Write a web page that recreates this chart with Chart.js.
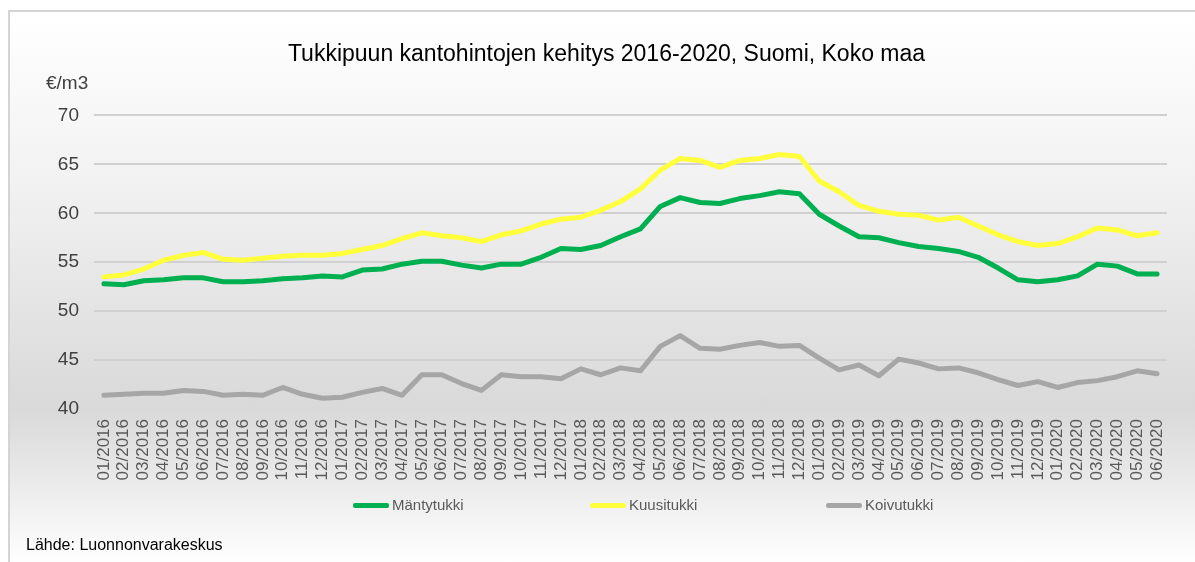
<!DOCTYPE html>
<html>
<head>
<meta charset="utf-8">
<script src="https://cdn.jsdelivr.net/npm/chart.js@4/dist/chart.umd.min.js"></script>
<style>
    body { margin: 0; background: #ffffff; width: 1195px; height: 562px; overflow: hidden; }
    #frame {
        position: absolute; left: 8px; top: 10px; width: 1187px; height: 552px;
        border-left: 2px solid #d4d4d4; border-top: 2px solid #d4d4d4;
        background: linear-gradient(to bottom, #ffffff 0%, #f2f2f2 30%, #d9d9d9 72%, #e6e6e6 82%, #ffffff 100%);
    }
    #myChart { position: absolute; left: 0; top: 0; }
    #legend { position: absolute; left: 0; top: 483px; width: 1187px; height: 20px; }
    .item { position: absolute; top: 0; height: 20px; font: 15px "Liberation Sans", Arial, sans-serif; color: #595959; line-height: 20px; white-space: nowrap; }
    .item span.line { display: inline-block; width: 36px; height: 5px; border-radius: 2px; vertical-align: middle; margin-right: 3px; position: relative; top: -1px; }
    #source { position: absolute; left: 16px; top: 524px; font: 16px "Liberation Sans", Arial, sans-serif; color: #000000; }
</style>
</head>
<body>
<div id="frame">
    <canvas id="myChart" width="1187" height="552"></canvas>
    <div id="legend"></div>
    <div id="source">Lähde: Luonnonvarakeskus</div>
</div>
<script>
const months = [
    '01/2016', '02/2016', '03/2016', '04/2016', '05/2016', '06/2016', '07/2016', '08/2016', '09/2016', '10/2016', '11/2016', '12/2016',
    '01/2017', '02/2017', '03/2017', '04/2017', '05/2017', '06/2017', '07/2017', '08/2017', '09/2017', '10/2017', '11/2017', '12/2017',
    '01/2018', '02/2018', '03/2018', '04/2018', '05/2018', '06/2018', '07/2018', '08/2018', '09/2018', '10/2018', '11/2018', '12/2018',
    '01/2019', '02/2019', '03/2019', '04/2019', '05/2019', '06/2019', '07/2019', '08/2019', '09/2019', '10/2019', '11/2019', '12/2019',
    '01/2020', '02/2020', '03/2020', '04/2020', '05/2020', '06/2020'
];

const mantytukki = [
    52.8, 52.7, 53.1, 53.2, 53.4, 53.4, 53.0, 53.0, 53.1, 53.3, 53.4, 53.6,
    53.5, 54.2, 54.3, 54.8, 55.1, 55.1, 54.7, 54.4, 54.8, 54.8, 55.5, 56.4,
    56.3, 56.7, 57.6, 58.4, 60.7, 61.6, 61.1, 61.0, 61.5, 61.8, 62.2, 62.0,
    59.9, 58.7, 57.6, 57.5, 57.0, 56.6, 56.4, 56.1, 55.5, 54.4, 53.2, 53.0,
    53.2, 53.6, 54.8, 54.6, 53.8, 53.8
];

const kuusitukki = [
    53.5, 53.7, 54.3, 55.2, 55.7, 56.0, 55.3, 55.2, 55.4, 55.6, 55.7, 55.7,
    55.9, 56.3, 56.7, 57.4, 58.0, 57.7, 57.5, 57.1, 57.8, 58.2, 58.9, 59.4,
    59.6, 60.3, 61.2, 62.5, 64.4, 65.6, 65.4, 64.7, 65.4, 65.6, 66.0, 65.8,
    63.3, 62.2, 60.8, 60.2, 59.9, 59.8, 59.3, 59.6, 58.7, 57.8, 57.1, 56.7,
    56.9, 57.6, 58.5, 58.3, 57.7, 58.0
];

const koivutukki = [
    41.4, 41.5, 41.6, 41.6, 41.9, 41.8, 41.4, 41.5, 41.4, 42.2, 41.5, 41.1,
    41.2, 41.7, 42.1, 41.4, 43.5, 43.5, 42.6, 41.9, 43.5, 43.3, 43.3, 43.1,
    44.1, 43.5, 44.2, 43.9, 46.4, 47.5, 46.2, 46.1, 46.5, 46.8, 46.4, 46.5,
    45.2, 44.0, 44.5, 43.4, 45.1, 44.7, 44.1, 44.2, 43.7, 43.0, 42.4, 42.8,
    42.2, 42.7, 42.9, 43.3, 43.9, 43.6
];

const seriesNames = ['Mäntytukki', 'Kuusitukki', 'Koivutukki'];
const seriesColors = ['#00b050', '#ffff3c', '#a6a6a6'];
const yTicks = [40, 45, 50, 55, 60, 65, 70];

const ctx = document.getElementById('myChart').getContext('2d');

function makeDataset(i, values) {
    return {
        label: seriesNames[i],
        data: values,
        borderColor: seriesColors[i],
        backgroundColor: seriesColors[i],
        borderWidth: 5,
        pointRadius: 0,
        tension: 0,
        borderJoinStyle: 'round',
        borderCapStyle: 'round',
        fill: false
    };
}

const myChart = new Chart(ctx, {
    type: 'line',
    data: {
        labels: months,
        datasets: [
            makeDataset(2, koivutukki),
            makeDataset(1, kuusitukki),
            makeDataset(0, mantytukki)
        ]
    },
    options: {
        responsive: false,
        animation: false,
        layout: { padding: { left: 36, right: 30, top: 0, bottom: 62 } },
        plugins: {
            legend: { display: false },
            tooltip: { enabled: false },
            title: {
                display: true,
                text: 'Tukkipuun kantohintojen kehitys 2016-2020, Suomi, Koko maa',
                color: '#000000',
                font: { family: '"Liberation Sans Narrow", "Liberation Sans", Arial, sans-serif', size: 23, weight: 'normal' },
                padding: { top: 29, bottom: 4 }
            },
            subtitle: {
                display: true,
                text: '€/m3',
                align: 'start',
                color: '#404040',
                font: { family: '"Liberation Sans", Arial, sans-serif', size: 19 },
                padding: { top: 0, bottom: 20 }
            }
        },
        scales: {
            x: {
                offset: true,
                grid: { display: false, drawTicks: false },
                border: { display: false },
                ticks: {
                    autoSkip: false,
                    maxRotation: 90,
                    minRotation: 90,
                    padding: 10,
                    color: '#595959',
                    font: { family: '"Liberation Sans", Arial, sans-serif', size: 17 }
                },
                afterFit: function(scale) { scale.height = 93; }
            },
            y: {
                min: 40,
                max: 70,
                afterBuildTicks: function(scale) {
                    scale.ticks = yTicks.map(v => ({ value: v }));
                },
                grid: {
                    color: function(c) { return c.tick && c.tick.value === 40 ? 'rgba(0,0,0,0)' : '#d0d0d0'; },
                    lineWidth: 2,
                    drawTicks: false
                },
                border: { display: false },
                ticks: {
                    padding: 15,
                    color: '#404040',
                    font: { family: '"Liberation Sans", Arial, sans-serif', size: 19 }
                },
                afterFit: function(scale) { scale.width = 48; }
            }
        }
    }
});

// html legend in Mäntytukki, Kuusitukki, Koivutukki order
const legendDiv = document.getElementById('legend');
const legendLeft = [343, 580, 816];
seriesNames.forEach(function(name, i) {
    const item = document.createElement('div');
    item.className = 'item';
    item.style.left = legendLeft[i] + 'px';
    const line = document.createElement('span');
    line.className = 'line';
    line.style.background = seriesColors[i];
    item.appendChild(line);
    item.appendChild(document.createTextNode(name));
    legendDiv.appendChild(item);
});
</script>
</body>
</html>
